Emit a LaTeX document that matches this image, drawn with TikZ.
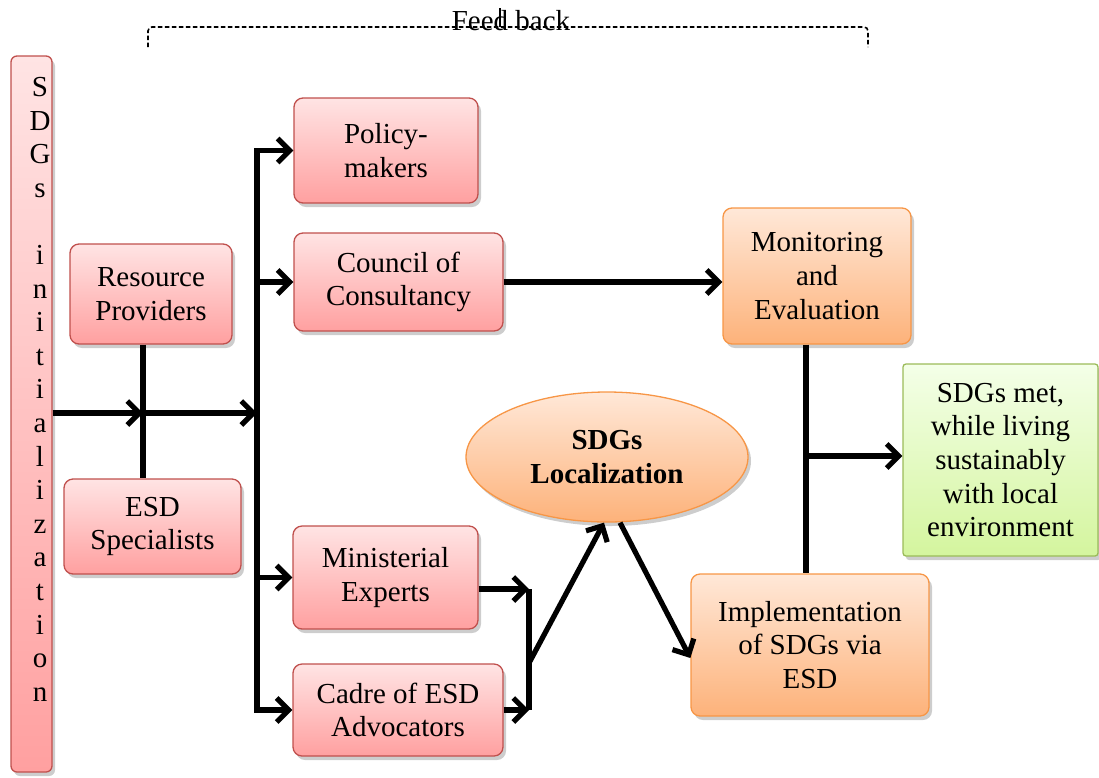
\documentclass[tikz,border=0pt]{standalone}
\usepackage{fontspec}
\setmainfont{Liberation Serif}
\usetikzlibrary{arrows.meta,shapes.geometric,shadows}
\definecolor{pinkT}{HTML}{FFE4E4}
\definecolor{pinkB}{HTML}{FFA0A0}
\definecolor{pinkD}{HTML}{C0504D}
\definecolor{orT}{HTML}{FFE8D8}
\definecolor{orB}{HTML}{FDB27A}
\definecolor{orD}{HTML}{F79646}
\definecolor{grT}{HTML}{F4FFE8}
\definecolor{grB}{HTML}{D4F59E}
\definecolor{grD}{HTML}{9BBB59}
\newcommand{\fsz}{\fontsize{29}{33.6}\selectfont}
\tikzset{
  shad/.style={drop shadow={shadow xshift=3pt,shadow yshift=-4pt,opacity=0.28,fill=black!70}},
  pinkbox/.style={shad,draw=pinkD,line width=1.3pt,rounded corners=9pt,top color=pinkT,bottom color=pinkB,align=center,font=\fsz,inner sep=0pt},
  orbox/.style={shad,draw=orD,line width=1.3pt,rounded corners=9pt,top color=orT,bottom color=orB,align=center,font=\fsz,inner sep=0pt},
  grbox/.style={shad,draw=grD,line width=1.3pt,rounded corners=3pt,top color=grT,bottom color=grB,align=center,font=\fsz,inner sep=0pt},
  conn/.style={line width=5.2pt,black},
  arr/.style={conn,-{Straight Barb[length=12pt,width=24pt]}},
  fbline/.style={line width=1.6pt,dash pattern=on 4.5pt off 2.5pt}
}
\begin{document}
\begin{tikzpicture}[x=1pt,y=-1pt]
\useasboundingbox (0,0) rectangle (1099,777);
% left bar
\node[pinkbox,rounded corners=6pt,minimum width=41pt,minimum height=716pt] (init) at (31.5,414) {};
\node[font=\fsz,align=center,inner sep=0pt,anchor=north] (initlabel) at (40,77)
  {S\\D\\G\\s\\\strut\\i\\n\\i\\t\\i\\a\\l\\i\\z\\a\\t\\i\\o\\n};
% boxes
\node[pinkbox,minimum width=162pt,minimum height=100pt] (res) at (151,294) {Resource\\Providers};
\node[pinkbox,minimum width=177pt,minimum height=95pt] (esd) at (152.5,526.5) {ESD\\Specialists};
\node[pinkbox,minimum width=184pt,minimum height=105pt] (pol) at (386,150.5) {Policy-\\makers};
\node[pinkbox,minimum width=209pt,minimum height=98pt] (cou) at (398.5,282) {Council of\\Consultancy};
\node[pinkbox,minimum width=185pt,minimum height=103pt] (min) at (385.5,577.5) {Ministerial\\Experts};
\node[pinkbox,minimum width=210pt,minimum height=92pt] (cad) at (398,710) {Cadre of ESD\\Advocators};
\node[orbox,minimum width=188pt,minimum height=136pt] (mon) at (817,276) {Monitoring\\and\\Evaluation};
\node[orbox,ellipse,minimum width=282pt,minimum height=130pt] (loc) at (607,457) {\textbf{SDGs}\\\textbf{Localization}};
\node[orbox,minimum width=238pt,minimum height=142pt] (imp) at (810,645) {Implementation\\of SDGs via\\ESD};
\node[grbox,minimum width=195pt,minimum height=192pt] (gre) at (1000.5,460) {SDGs met,\\while living\\sustainably\\with local\\environment};
% feedback bracket
\coordinate (fbl) at (148,47);
\coordinate (fbr) at (868,47);
\coordinate (fbm) at (500,27);
\draw[fbline,rounded corners=4pt] (fbl) -- (148,27) -- (868,27) -- (fbr);
\draw[line width=1.4pt] (fbm) -- (500,8);
\node[font=\fsz,inner sep=0pt,anchor=base] (fb) at (511,30) {Feed back};
% connectors
\coordinate (j1) at (143,413);
\coordinate (j2) at (257,413);
\draw[conn] (j1 |- res.south) -- (j1 |- esd.north);
\draw[arr] (init.east |- j1) -- (j1);
\draw[arr] (j1) -- (j2);
\draw[conn,line cap=rect] (j2 |- pol.west) -- (j2 |- cad.west);
\draw[arr] (j2 |- pol.west) -- (pol.west);
\draw[arr] (j2 |- cou.west) -- (cou.west);
\draw[arr] (j2 |- min.west) -- (min.west);
\draw[arr] (j2 |- cad.west) -- (cad.west);
\draw[arr] (cou.east) -- (cou.east -| mon.west);
\coordinate (b1) at (529,589);
\coordinate (b2) at (529,710);
\coordinate (b3) at (529,663);
\draw[arr] (min.east |- b1) -- (b1);
\draw[arr] (cad.east |- b2) -- (b2);
\draw[conn] (b1) -- (b2);
\draw[arr] (b3) -- ([xshift=-3pt]loc.south);
\draw[arr] ([xshift=13pt]loc.south) -- ([yshift=-13pt]imp.west);
\coordinate (v) at (806,456);
\draw[conn] (v |- mon.south) -- (v |- imp.north);
\draw[arr] (v) -- (v -| gre.west);
\end{tikzpicture}
\end{document}
